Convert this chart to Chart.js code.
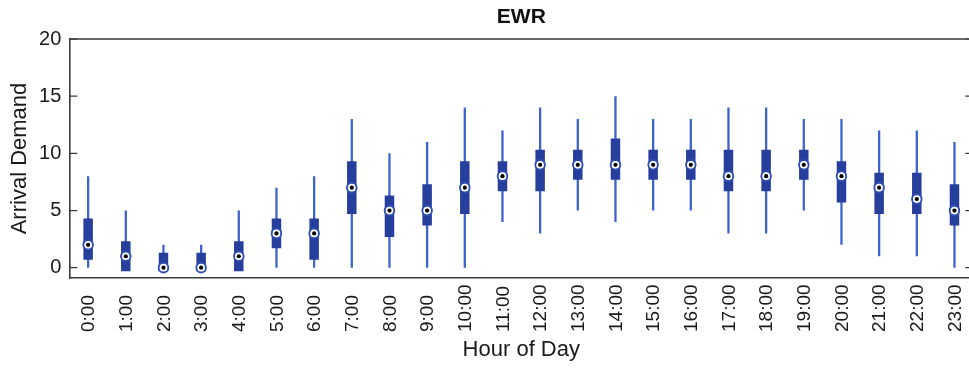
<!DOCTYPE html>
<html>
<head>
<meta charset="utf-8">
<title>EWR arrival demand by hour</title>
<script src="https://cdn.jsdelivr.net/npm/chart.js@4.4.1/dist/chart.umd.min.js"></script>
<style>
  html, body { margin: 0; padding: 0; background: #ffffff; overflow: hidden; }
  #wrap { width: 969px; height: 368px; overflow: hidden; }
  canvas { display: block; }
</style>
</head>
<body>
<div id="wrap"><canvas id="chart" width="980" height="368"></canvas></div>
<script>
// Hourly arrival demand at EWR: whisker range, quartile box and median per hour
const hours = ['0:00', '1:00', '2:00', '3:00', '4:00', '5:00', '6:00', '7:00', '8:00', '9:00', '10:00', '11:00',
               '12:00', '13:00', '14:00', '15:00', '16:00', '17:00', '18:00', '19:00', '20:00', '21:00', '22:00', '23:00'];
const whiskerLow    = [0, 0, 0, 0, 0, 0, 0, 0, 0, 0, 0, 4, 3, 5, 4, 5, 5, 3, 3, 5, 2, 1, 1, 0];
const lowerQuartile = [1, 0, 0, 0, 0, 2, 1, 5, 3, 4, 5, 7, 7, 8, 8, 8, 8, 7, 7, 8, 6, 5, 5, 4];
const medianValue   = [2, 1, 0, 0, 1, 3, 3, 7, 5, 5, 7, 8, 9, 9, 9, 9, 9, 8, 8, 9, 8, 7, 6, 5];
const upperQuartile = [4, 2, 1, 1, 2, 4, 4, 9, 6, 7, 9, 9, 10, 10, 11, 10, 10, 10, 10, 10, 9, 8, 8, 7];
const whiskerHigh   = [8, 5, 2, 2, 5, 7, 8, 13, 10, 11, 14, 12, 14, 13, 15, 13, 13, 14, 14, 13, 13, 12, 12, 11];
const yTickValues   = [0, 5, 10, 15, 20];

const FONT = "'Liberation Sans', Arial, Helvetica, sans-serif";
const TEXT = '#1a1a1a';
const FRAME = '#3a3a3a';

// Top and right frame lines plus inward tick marks on both vertical axes
const frameAndTicks = {
  id: 'frameAndTicks',
  afterDatasetsDraw(chart) {
    const { ctx, chartArea: a } = chart;
    const ys = chart.scales.y;
    ctx.save();
    ctx.strokeStyle = FRAME;
    ctx.lineWidth = 1.6;
    ctx.beginPath();
    ctx.moveTo(a.left, a.top);
    ctx.lineTo(a.right, a.top);
    ctx.lineTo(a.right, a.bottom);
    ctx.stroke();
    ctx.lineWidth = 1.2;
    yTickValues.forEach(v => {
      const y = ys.getPixelForValue(v);
      ctx.beginPath();
      ctx.moveTo(a.left, y);
      ctx.lineTo(a.left + 8, y);
      ctx.moveTo(a.right, y);
      ctx.lineTo(a.right - 8, y);
      ctx.stroke();
    });
    ctx.restore();
  }
};

// Vertical hour labels, starting from a common baseline below the axis
const hourLabels = {
  id: 'hourLabels',
  afterDraw(chart) {
    const { ctx } = chart;
    const xs = chart.scales.x;
    ctx.save();
    ctx.font = '19px ' + FONT;
    ctx.fillStyle = TEXT;
    ctx.textAlign = 'left';
    ctx.textBaseline = 'middle';
    hours.forEach((h, i) => {
      const x = xs.getPixelForValue(i);
      ctx.save();
      ctx.translate(x + 1, 332);
      ctx.rotate(-Math.PI / 2);
      ctx.fillText(h, 0, 0);
      ctx.restore();
    });
    ctx.restore();
  }
};

new Chart(document.getElementById('chart'), {
  data: {
    labels: hours,
    datasets: [
      {
        type: 'line',
        label: 'Median',
        data: medianValue,
        showLine: false,
        pointRadius: 2.1,
        pointBackgroundColor: '#000000',
        pointBorderWidth: 0,
        order: 0
      },
      {
        type: 'line',
        label: 'Median ring',
        data: medianValue,
        showLine: false,
        pointRadius: 4.8,
        pointBackgroundColor: '#ffffff',
        pointBorderColor: '#2f4fb2',
        pointBorderWidth: 1.9,
        order: 1
      },
      {
        type: 'bar',
        label: 'Interquartile range',
        data: hours.map((_, i) => [lowerQuartile[i], upperQuartile[i]]),
        backgroundColor: '#263f9c',
        barThickness: 2.5,
        inflateAmount: 3.5,
        grouped: false,
        order: 2
      },
      {
        type: 'bar',
        label: 'Whiskers',
        data: hours.map((_, i) => [whiskerLow[i], whiskerHigh[i]]),
        backgroundColor: '#3d63cc',
        barThickness: 2.3,
        inflateAmount: 0,
        grouped: false,
        order: 3
      }
    ]
  },
  options: {
    responsive: false,
    animation: false,
    devicePixelRatio: 1,
    events: [],
    layout: { padding: { left: 0, right: 4, top: 0, bottom: 0 } },
    plugins: {
      legend: { display: false },
      tooltip: { enabled: false },
      title: {
        display: true,
        text: 'EWR',
        fullSize: false,
        color: '#111111',
        font: { family: FONT, size: 21, weight: 'bold' },
        padding: { top: 5, bottom: 8.8 }
      }
    },
    scales: {
      x: {
        type: 'category',
        labels: hours,
        offset: true,
        grid: { display: false, drawTicks: false },
        border: { display: true, color: FRAME, width: 1.6 },
        ticks: { display: false },
        title: {
          display: true,
          text: 'Hour of Day',
          color: TEXT,
          font: { family: FONT, size: 22 },
          padding: { top: 0, bottom: 5 }
        },
        afterFit(scale) { scale.height = 90; }
      },
      y: {
        type: 'linear',
        min: -0.9,
        max: 20,
        afterBuildTicks(scale) { scale.ticks = yTickValues.map(v => ({ value: v })); },
        grid: { display: false, drawTicks: false },
        border: { display: true, color: FRAME, width: 1.6 },
        ticks: { color: TEXT, font: { family: FONT, size: 20 }, padding: 8 },
        title: {
          display: true,
          text: 'Arrival Demand',
          color: TEXT,
          font: { family: FONT, size: 22 },
          padding: { top: 7, bottom: 0 }
        },
        afterFit(scale) { scale.width = 69.3; }
      }
    }
  },
  plugins: [frameAndTicks, hourLabels]
});
</script>
</body>
</html>
